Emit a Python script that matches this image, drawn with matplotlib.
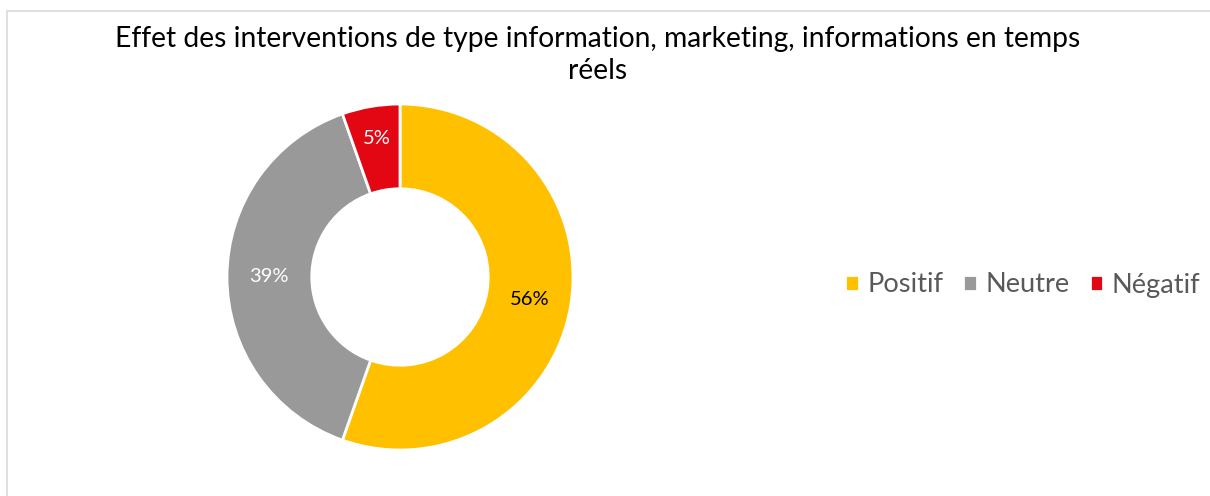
import matplotlib.pyplot as plt
from matplotlib import patches
import numpy as np

plt.rcParams['font.family'] = ['Lato', 'DejaVu Sans']

# data
categories = ['Positif', 'Neutre', 'Négatif']
shares = [55.4, 39.2, 5.4]
labels = ['56%', '39%', '5%']
colors = ['#FFC000', '#999999', '#E30613']
label_colors = ['black', 'white', 'white']
title = 'Effet des interventions de type information, marketing, informations en temps\nréels'

fig = plt.figure(figsize=(12.1, 4.96), dpi=100)

# chart frame (only left and top edges are visible in the crop)
fig.add_artist(patches.Rectangle((7 / 1210, -0.1), 1.2, (496 - 11) / 496 + 0.1,
                                 transform=fig.transFigure, fill=False,
                                 edgecolor='#D9D9D9', linewidth=1.2))

ax = fig.add_axes([227 / 1210, 46 / 496, 346 / 1210, 346 / 496])
wedges, _ = ax.pie(shares, colors=colors, startangle=90, counterclock=False,
                   radius=1, wedgeprops=dict(width=0.49, edgecolor='white', linewidth=2))
ax.set_xlim(-1, 1)
ax.set_ylim(-1, 1)
ax.set_aspect('equal')
ax.axis('off')

# percent labels in the middle of each ring segment (small slice a bit further out)
for w, lab, lc in zip(wedges, labels, label_colors):
    mid = np.deg2rad((w.theta1 + w.theta2) / 2)
    r = 0.81 if (w.theta2 - w.theta1) < 30 else 0.76
    ax.text(r * np.cos(mid), r * np.sin(mid), lab, ha='center', va='center',
            fontsize=14.5, color=lc)

fig.text(0.494, 1 - 55 / 496, title, ha='center', va='center', fontsize=20.3,
         linespacing=1.3, color='black')

fig.legend(wedges, categories, loc='center', bbox_to_anchor=(1023 / 1210, 1 - 285 / 496),
           ncol=3, frameon=False, fontsize=19.6, labelcolor='#595959',
           handlelength=0.5, handleheight=0.5, handletextpad=0.32, columnspacing=0.72)

fig.savefig('out.png', dpi=100, facecolor='white')
